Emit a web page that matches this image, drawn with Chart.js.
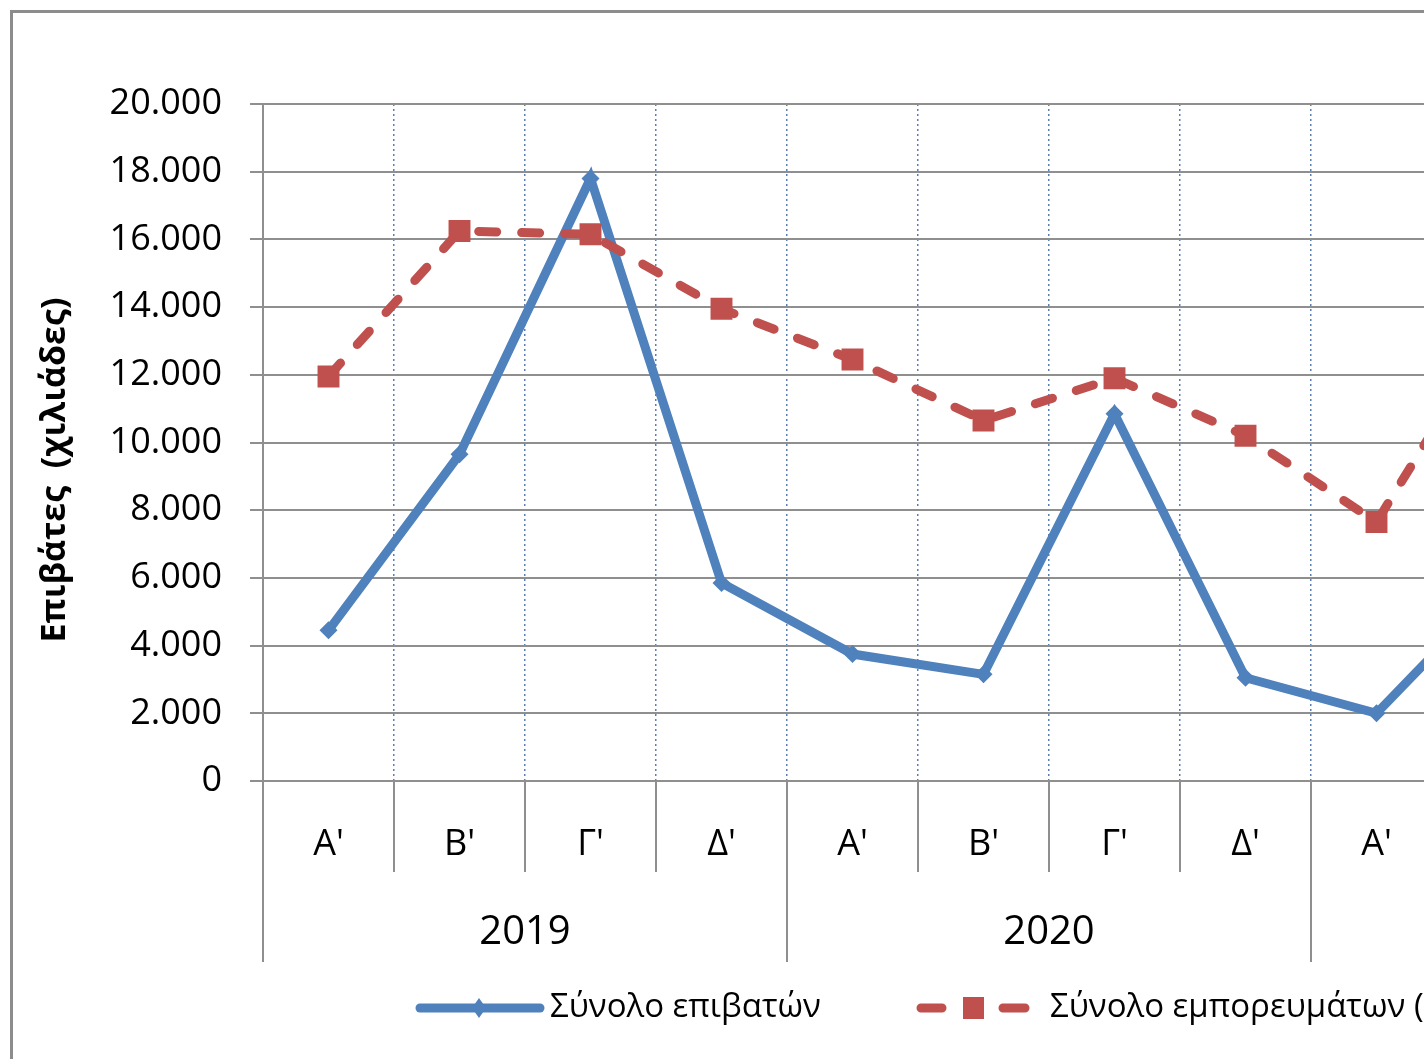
<!DOCTYPE html>
<html>
<head>
<meta charset="utf-8">
<script src="https://cdn.jsdelivr.net/npm/chart.js@4.4.0/dist/chart.umd.min.js"></script>
<style>
html, body { margin: 0; padding: 0; overflow: hidden; background: #fff; width: 1424px; height: 1059px; }
#wrap { position: absolute; left: 0; top: 0; width: 1900px; height: 1100px; }
</style>
</head>
<body>
<div id="wrap"><canvas id="myChart" width="1900" height="1100"></canvas></div>
<script>
// quarters, three years (the right part is cut off in the picture)
var quarters = ["Α'", "Β'", "Γ'", "Δ'", "Α'", "Β'", "Γ'", "Δ'", "Α'", "Β'", "Γ'", "Δ'"];
var years = ["2019", "2020", "2021"];
var passengers = [4450, 9650, 17800, 5850, 3750, 3150, 10850, 3050, 2000, 6000, null, null];
var goods = [11950, 16250, 16150, 13950, 12450, 10650, 11900, 10200, 7650, 13900, null, null];
var yMin = 0, yMax = 20000, yStep = 2000;

var blue = '#4F81BD';
var red = '#C0504D';
var font = "'Open Sans', sans-serif";

function fmt(v) {
	return String(v).replace(/\B(?=(\d{3})+(?!\d))/g, '.');
}

var extras = {
	id: 'extras',
	afterDraw: function(chart) {
		var ctx = chart.ctx;
		var xs = chart.scales.x;
		var n = quarters.length;
		var step = xs.width / n;
		var base = chart.chartArea.bottom;
		ctx.save();
		// separators under the axis
		ctx.strokeStyle = '#8f8f8f';
		ctx.lineWidth = 2;
		for (var i = 0; i <= n; i++) {
			var x = Math.round(xs.left + i * step);
			ctx.beginPath();
			ctx.moveTo(x, base);
			ctx.lineTo(x, i % 4 == 0 ? base + 181 : base + 91);
			ctx.stroke();
		}
		// year labels
		ctx.fillStyle = '#000';
		ctx.font = "40px " + font;
		ctx.textAlign = 'center';
		ctx.textBaseline = 'middle';
		for (var g = 0; g < years.length; g++) {
			var cx = (xs.getPixelForValue(g * 4) + xs.getPixelForValue(g * 4 + 3)) / 2;
			ctx.fillText(years[g], cx, base + 152);
		}
		// y title
		ctx.save();
		ctx.translate(55, 470);
		ctx.rotate(-Math.PI / 2);
		ctx.font = "bold 34px " + font;
		ctx.fillText("Επιβάτες  (χιλιάδες)", 0, 0);
		ctx.restore();
		// legend
		var ly = 1008;
		ctx.lineCap = 'round';
		ctx.lineWidth = 9;
		ctx.strokeStyle = blue;
		ctx.beginPath();
		ctx.moveTo(420, ly);
		ctx.lineTo(540, ly);
		ctx.stroke();
		ctx.fillStyle = blue;
		ctx.beginPath();
		ctx.moveTo(479, ly - 10);
		ctx.lineTo(486, ly);
		ctx.lineTo(479, ly + 10);
		ctx.lineTo(472, ly);
		ctx.closePath();
		ctx.fill();
		ctx.strokeStyle = red;
		ctx.beginPath();
		ctx.moveTo(921, ly);
		ctx.lineTo(942, ly);
		ctx.moveTo(1003, ly);
		ctx.lineTo(1025, ly);
		ctx.stroke();
		ctx.fillStyle = red;
		ctx.fillRect(963, ly - 11, 21, 22);
		ctx.fillStyle = '#000';
		ctx.font = "33px " + font;
		ctx.textAlign = 'left';
		ctx.fillText("Σύνολο επιβατών", 550, ly);
		ctx.fillText("Σύνολο εμπορευμάτων (τόνοι)", 1050, ly);
		// outer frame
		ctx.strokeStyle = '#8c8c8c';
		ctx.lineWidth = 3;
		ctx.strokeRect(11.5, 11.5, 2400, 2400);
		ctx.restore();
	}
};

window.onload = function() {
	var ctx = document.getElementById('myChart').getContext('2d');
	var chart = new Chart(ctx, {
		type: 'line',
		data: {
			labels: quarters,
			datasets: [{
				label: "Σύνολο επιβατών",
				data: passengers,
				borderColor: blue,
				backgroundColor: blue,
				borderWidth: 9,
				borderJoinStyle: 'miter',
				pointStyle: 'rectRot',
				pointRadius: 9,
				pointBorderWidth: 0,
				tension: 0,
				order: 2
			}, {
				label: "Σύνολο εμπορευμάτων (τόνοι)",
				data: goods,
				borderColor: red,
				backgroundColor: red,
				borderWidth: 9,
				borderDash: [18, 25],
				borderCapStyle: 'round',
				pointStyle: 'rect',
				pointRadius: 15.5,
				pointBorderWidth: 0,
				tension: 0,
				order: 1
			}]
		},
		options: {
			responsive: false,
			animation: false,
			layout: { padding: { left: 0, top: 104, right: 65, bottom: 0 } },
			plugins: { legend: { display: false }, tooltip: { enabled: false } },
			scales: {
				x: {
					offset: true,
					afterFit: function(s) { s.height = 319; },
					grid: { offset: true, color: '#5b7fb5', lineWidth: 1.5, drawTicks: false },
					border: { color: '#8f8f8f', width: 2, dash: [2, 3] },
					ticks: { color: '#000', font: { family: font, size: 36 }, padding: 42, maxRotation: 0, autoSkip: false }
				},
				y: {
					min: yMin, max: yMax,
					afterFit: function(s) { s.width = 263; },
					grid: { color: '#8f8f8f', lineWidth: 2, tickLength: 13 },
					border: { color: '#8f8f8f', width: 2 },
					ticks: { stepSize: yStep, color: '#000', padding: 28, font: { family: font, size: 36 }, callback: function(v) { return fmt(v); } }
				}
			}
		},
		plugins: [extras]
	});
};
</script>
</body>
</html>
